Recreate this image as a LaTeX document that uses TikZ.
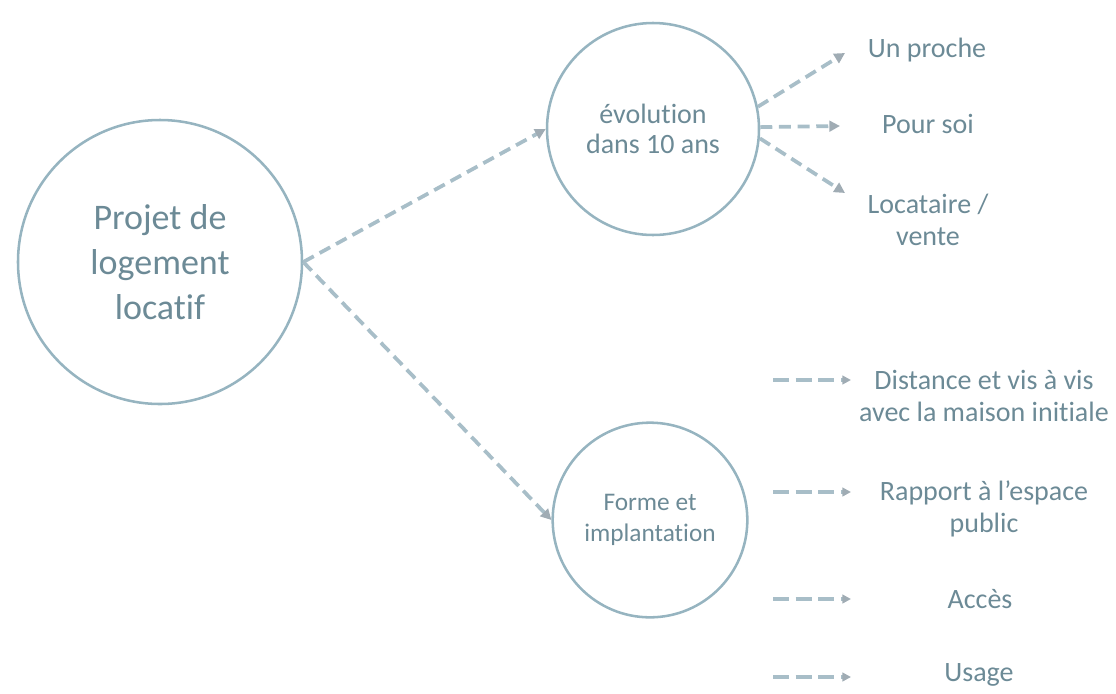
\documentclass[tikz,border=0pt]{standalone}
\usepackage{fontspec}
\setmainfont[Ligatures=NoCommon]{Carlito}
\usetikzlibrary{arrows.meta}
\definecolor{txt}{RGB}{108,138,150}
\definecolor{ring}{RGB}{150,180,192}
\definecolor{arr}{RGB}{168,190,200}
\definecolor{tip}{RGB}{160,172,180}
\tikzset{
  bubble/.style={circle, draw=ring, line width=1.9pt, text=txt, align=center, inner sep=0pt},
  lbl/.style={text=txt, align=center, font=\fontsize{21pt}{24pt}\selectfont, inner sep=0pt},
  link/.style={draw=arr, line width=2.8pt, dash pattern=on 9pt off 5pt, -{Triangle[length=8pt,width=8pt,color=tip]}},
  minilink/.style={draw=arr, line width=2.4pt, dash pattern=on 12pt off 5pt, -{Triangle[length=6.5pt,width=6.5pt,color=tip]}}
}
\begin{document}
\begin{tikzpicture}[x=0.75pt,y=-0.75pt]
\useasboundingbox (0,0) rectangle (1116,693);
\node[bubble, minimum size=213pt, font=\fontsize{27pt}{34pt}\selectfont] (main) at (160,262) {Projet de\\logement\\locatif};
\node[bubble, minimum size=159pt, font=\fontsize{21pt}{23pt}\selectfont] (evo) at (653,129) {évolution\\dans 10 ans};
\node[bubble, minimum size=146pt, font=\fontsize{19pt}{23pt}\selectfont] (forme) at (650,520) {Forme et\\implantation};

\draw[link] (main.east) -- (evo.west);
\draw[link] (main.east) -- (forme.west);

\node[lbl] (proche) at (927,50) {Un proche};
\node[lbl] (soi) at (928,124) {Pour soi};
\node[lbl] (loc) at (928,220) {Locataire /\\vente};

\coordinate (e1) at (845,53);
\coordinate (e2) at (840,126);
\coordinate (e3) at (845,193);
\draw[link] (evo.12) -- (e1);
\draw[link] (evo.1) -- (e2);
\draw[link] (evo.-5) -- (e3);

\node[lbl] (dist) at (984,396) {Distance et vis à vis\\avec la maison initiale};
\node[lbl] (rapp) at (984,509) {Rapport à l’espace\\public};
\node[lbl] (acces) at (980,599) {Accès};
\node[lbl] (usage) at (979,675) {Usage};

\foreach \n/\y in {a/380,b/492,c/599,d/677}{
  \coordinate (s\n) at (773,\y);
  \coordinate (t\n) at (851,\y);
  \draw[minilink] (s\n) -- (t\n);
}
\end{tikzpicture}
\end{document}
